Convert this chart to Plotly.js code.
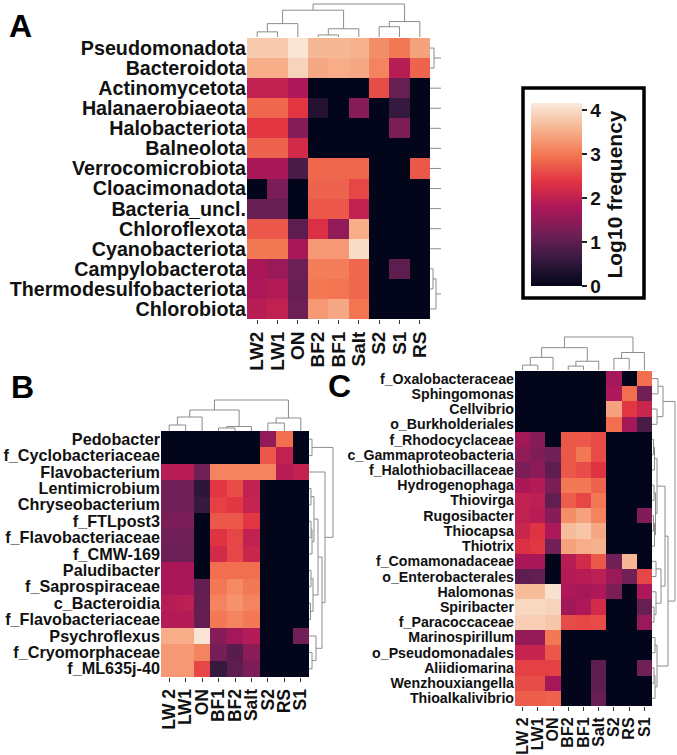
<!DOCTYPE html>
<html><head><meta charset="utf-8">
<script src="https://cdn.plot.ly/plotly-3.0.1.min.js"></script>
<style>html,body{margin:0;padding:0;background:#fff}#chart{width:677px;height:755px}</style>
</head><body><div id="chart"></div>
<script>
// ---------- Panel A ----------
const aCols = ['LW2','LW1','ON','BF2','BF1','Salt','S2','S1','RS'];
const aRows = ['Pseudomonadota','Bacteroidota','Actinomycetota','Halanaerobiaeota','Halobacteriota','Balneolota','Verrocomicrobiota','Cloacimonadota','Bacteria_uncl.','Chloroflexota','Cyanobacteriota','Campylobacterota','Thermodesulfobacteriota','Chlorobiota'];
const aValues = [
  [3.8,3.8,4.1,3.6,3.6,3.55,3.2,3.0,3.4],
  [3.5,3.5,3.9,3.45,3.5,3.45,3.1,1.9,2.8],
  [2.0,2.0,1.8,0,0,0,2.6,1.1,0],
  [2.85,2.85,2.4,0.4,0,1.4,0,0.6,0],
  [2.4,2.4,1.4,0,0,0,0,1.3,0],
  [2.8,2.8,2.2,0,0,0,0,0,0],
  [1.75,1.75,0.8,2.85,2.85,2.85,0,0,2.7],
  [0,1.3,0,2.8,2.8,2.55,0,0,0],
  [1.1,1.1,0,2.7,2.7,2.0,0,0,0],
  [2.7,2.7,1.0,2.3,1.5,3.5,0,0,0],
  [3.0,3.0,1.75,3.3,3.3,4.0,0,0,0],
  [1.75,1.6,1.15,3.05,3.05,2.85,0,1.0,0],
  [1.8,1.85,1.1,3.0,2.95,2.85,0,0,0],
  [1.9,2.0,1.15,3.3,3.45,2.95,0,0,0]
];
// linkage: [childA, childB, height]; leaves 0..n-1, new clusters numbered n, n+1, ... in order
const aColLinkage = [[0,1,5],[9,2,13],[3,4,2],[11,5,8],[10,12,26],[6,7,10],[14,8,15],[13,15,32]];
const aRowLinkage = [[0,1,4],[11,12,3],[15,13,6],[2,3,14],[4,5,12],[17,18,18],[7,8,12],[20,6,16],[9,10,14],[22,16,20],[21,23,24],[19,24,30],[14,25,40]];

// ---------- Panel B ----------
const bCols = ['LW 2','LW1','ON','BF1','BF2','Salt','S2','RS','S1'];
const bRows = ['Pedobacter','f_Cyclobacteriaceae','Flavobacterium','Lentimicrobium','Chryseobacterium','f_FTLpost3','f_Flavobacteriaceae','f_CMW-169','Paludibacter','f_Saprospiraceae','c_Bacteroidia','f_Flavobacteriaceae','Psychroflexus','f_Cryomorphaceae','f_ML635j-40'];
const bValues = [
  [0,0,0,0,0,0,1.5,2.9,0],
  [0,0,0,0,0,0,2.7,2.0,0],
  [1.9,1.9,1.2,3.1,3.1,3.1,3.1,1.9,2.0],
  [1.2,1.2,0.5,2.4,2.6,2.0,0,0,0],
  [1.2,1.2,0.6,2.5,2.4,2.05,0,0,0],
  [1.3,1.3,0,2.7,2.7,2.4,0,0,0],
  [1.2,1.2,0,2.35,2.55,2.0,0,0,0],
  [1.15,1.15,0,2.2,2.55,2.1,0,0,0],
  [1.75,1.75,0,2.9,2.9,2.9,0,0,0],
  [1.75,1.75,1.05,3.0,3.15,3.0,0,0,0],
  [1.9,1.95,1.05,3.1,3.25,3.1,0,0,0],
  [1.85,1.85,1.05,3.0,3.1,3.0,0,0,0],
  [3.5,3.5,4.1,1.4,1.7,1.85,0,0,1.2],
  [3.3,3.3,3.1,1.25,0.95,1.45,0,0,0],
  [3.3,3.3,2.55,0.6,1.0,1.3,0,0,0]
];
const bColLinkage = [[0,1,6],[9,2,14],[3,4,3],[11,5,4.5],[10,12,21],[6,7,8],[14,8,13],[13,15,31]];
const bRowLinkage = [[0,1,3],[3,4,2],[5,6,2],[17,7,3],[16,18,5],[8,9,2],[10,11,1.5],[20,21,4],[19,22,9],[13,14,3],[12,24,7],[23,25,13],[2,26,16],[15,27,24]];

// ---------- Panel C ----------
const cCols = ['LW 2','LW1','ON','BF2','BF1','Salt','S2','RS','S1'];
const cRows = ['f_Oxalobacteraceae','Sphingomonas','Cellvibrio','o_Burkholderiales','f_Rhodocyclaceae','c_Gammaproteobacteria','f_Halothiobacillaceae','Hydrogenophaga','Thiovirga','Rugosibacter','Thiocapsa','Thiotrix','f_Comamonadaceae','o_Enterobacterales','Halomonas','Spiribacter','f_Paracoccaceae','Marinospirillum','o_Pseudomonadales','Aliidiomarina','Wenzhouxiangella','Thioalkalivibrio'];
const cValues = [
  [0,0,0,0,0,0,1.7,0,2.9],
  [0,0,0,0,0,0,1.8,2.9,1.2],
  [0,0,0,0,0,0,3.4,2.4,2.1],
  [0,0,0,0,0,0,2.9,1.7,0.8],
  [1.7,1.4,0,2.7,2.7,2.6,0,0,0],
  [1.5,1.35,1.2,2.7,3.0,2.6,0,0,0],
  [1.3,1.45,1.0,2.7,2.6,2.35,0,0,0],
  [1.75,1.85,1.3,3.0,3.0,2.8,0,0,0],
  [2.0,1.95,1.05,2.75,2.55,3.0,0,0,0],
  [2.0,1.9,1.4,3.2,3.4,3.1,0,0,1.35],
  [2.1,2.35,1.8,3.65,3.75,3.45,0,0,0],
  [2.3,2.4,1.2,3.4,3.5,3.55,0,0,0],
  [1.75,1.75,0,1.9,2.2,2.7,1.2,3.6,0],
  [1.0,1.05,0,1.85,1.9,1.95,1.6,1.2,2.55],
  [3.65,3.65,4.05,1.8,1.7,1.8,1.3,0,1.8],
  [3.95,3.95,3.9,1.65,1.8,2.2,0,0,1.1],
  [3.85,3.85,3.75,2.6,2.55,2.6,0,0,1.6],
  [1.55,1.55,3.0,0,0,0,0,0,0],
  [2.05,2.05,2.7,0,0,0,0,0,0],
  [2.5,2.5,2.5,0,0,1.0,0,0,1.2],
  [2.6,2.6,1.7,0,0,1.0,0,0,0],
  [2.75,2.75,2.8,0,0,1.1,0,0,0]
];
const cColLinkage = [[0,1,5],[9,2,13],[3,4,4],[11,5,9],[10,12,23],[6,7,12],[14,8,18],[13,15,34]];
const cRowLinkage = [
  [0,1,6],[2,3,5],[22,23,11],[4,5,1.5],[25,6,2.5],[7,8,2],[9,10,1.5],[28,11,2.5],[27,29,3.5],[26,30,5],
  [12,13,4],[15,16,2],[14,33,4],[32,34,9],[17,18,3],[19,20,2],[37,21,3],[36,38,5],[31,35,13],[40,39,16],[24,41,23]
];
</script>
<script>
const W = 677, H = 755;
const px = v => v / W;
const py = v => 1 - v / H;
const FONT = 'Liberation Sans, Arial, sans-serif';
const rocket = [[0,'#03051a'],[0.143,'#35193e'],[0.286,'#701f57'],[0.429,'#ad1759'],[0.571,'#e13342'],[0.714,'#f37651'],[0.857,'#f6b48f'],[1,'#faebdd']];

function dendro(n, links) {
  const pos = [], ht = [];
  for (let i = 0; i < n; i++) { pos[i] = i; ht[i] = 0; }
  const p = [], h = [];
  links.forEach((m, k) => {
    const [a, b, hh] = m, id = n + k;
    p.push(pos[a], pos[a], pos[b], pos[b], null);
    h.push(ht[a], hh, hh, ht[b], null);
    pos[id] = (pos[a] + pos[b]) / 2; ht[id] = hh;
  });
  return {p, h};
}
const idx = arr => arr.map((_, i) => i);

const panels = [
  {cols:aCols, rows:aRows, z:aValues, colL:aColLinkage, rowL:aRowLinkage,
   box:[247,430,38,319], colD:[37,3,33], rowD:[430,441,11], yf:19.7, xf:19},
  {cols:bCols, rows:bRows, z:bValues, colL:bColLinkage, rowL:bRowLinkage,
   box:[161,309,431,677], colD:[431,399,32], rowD:[309,334,25], yf:16.2, xf:17.5},
  {cols:cCols, rows:cRows, z:cValues, colL:cColLinkage, rowL:cRowLinkage,
   box:[515,652,371,706], colD:[370,336,35], rowD:[652,676,24], yf:14.2, xf:16}
];

const traces = [];
const layout = {
  width: W, height: H, margin: {l:0, r:0, t:0, b:0},
  paper_bgcolor: '#fff', plot_bgcolor: '#fff', showlegend: false,
  font: {family: FONT, color: '#111'},
  coloraxis: {
    colorscale: rocket, cmin: 0, cmax: 4.16,
    colorbar: {
      x: px(531), xanchor: 'left', xref: 'paper',
      y: py(286), yanchor: 'bottom', yref: 'paper',
      len: 183, lenmode: 'pixels', thickness: 51, thicknessmode: 'pixels',
      xpad: 0, ypad: 0, outlinewidth: 0,
      ticks: 'outside', ticklen: 5, tickwidth: 1.5, tickcolor: '#222',
      tickvals: [0,1,2,3,4],
      tickfont: {family: FONT, size: 19, weight: 'bold', color: '#111'},
      title: {text: 'Log10 frequency', side: 'right', font: {family: FONT, size: 21, weight: 'bold', color: '#111'}}
    }
  },
  shapes: [{type:'rect', xref:'paper', yref:'paper', x0:px(523), x1:px(644), y0:py(298), y1:py(88), line:{color:'#000', width:3.5}}],
  annotations: [
    {text:'A', x:px(7), y:py(26), xanchor:'left', yanchor:'middle'},
    {text:'B', x:px(9), y:py(387), xanchor:'left', yanchor:'middle'},
    {text:'C', x:px(326), y:py(386), xanchor:'left', yanchor:'middle'}
  ].map(a => Object.assign(a, {xref:'paper', yref:'paper', showarrow:false, font:{family:FONT, size:32, weight:'bold', color:'#000'}}))
};

panels.forEach((P, k) => {
  const n = k + 1;
  const xa = n === 1 ? 'x' : 'x' + n, ya = n === 1 ? 'y' : 'y' + n;
  const [x0, x1, y0, y1] = P.box;
  const nr = P.rows.length, nc = P.cols.length;
  traces.push({type:'heatmap', z:P.z, x:idx(P.cols), y:idx(P.rows), coloraxis:'coloraxis',
    xaxis:xa, yaxis:ya, hoverinfo:'skip', showscale: k === 0});
  layout['xaxis' + (n === 1 ? '' : n)] = {domain:[px(x0), px(x1)], range:[-0.5, nc - 0.5], anchor: ya,
    tickvals: idx(P.cols), ticktext: P.cols, tickangle: -90, ticks:'outside', ticklen:4, tickwidth:1, tickcolor:'#333',
    showgrid:false, zeroline:false, showline:false, fixedrange:true,
    tickfont:{family:FONT, size:P.xf, weight:'bold', color:'#111'}};
  layout['yaxis' + (n === 1 ? '' : n)] = {domain:[py(y1), py(y0)], range:[nr - 0.5, -0.5], anchor: xa,
    tickvals: idx(P.rows), ticktext: P.rows, ticks:'', showgrid:false, zeroline:false, showline:false, fixedrange:true,
    tickfont:{family:FONT, size:P.yf, weight:'bold', color:'#111'}};

  // column dendrogram
  const cd = dendro(nc, P.colL);
  const cx = 'x' + (3 + 2*n - 1), cy = 'y' + (3 + 2*n - 1);
  traces.push({type:'scatter', mode:'lines', x:cd.p, y:cd.h, xaxis:cx, yaxis:cy,
    line:{color:'#8c8c8c', width:1}, hoverinfo:'skip'});
  layout['xaxis' + (3 + 2*n - 1)] = {domain:[px(x0), px(x1)], range:[-0.5, nc - 0.5], anchor:cy, visible:false, fixedrange:true};
  layout['yaxis' + (3 + 2*n - 1)] = {domain:[py(P.colD[0]), py(P.colD[1])], range:[0, P.colD[2]], anchor:cx, visible:false, fixedrange:true};

  // row dendrogram
  const rd = dendro(nr, P.rowL);
  const rx = 'x' + (3 + 2*n), ry = 'y' + (3 + 2*n);
  traces.push({type:'scatter', mode:'lines', x:rd.h, y:rd.p, xaxis:rx, yaxis:ry,
    line:{color:'#8c8c8c', width:1}, hoverinfo:'skip'});
  layout['xaxis' + (3 + 2*n)] = {domain:[px(P.rowD[0]), px(P.rowD[1])], range:[0, P.rowD[2]], anchor:ry, visible:false, fixedrange:true};
  layout['yaxis' + (3 + 2*n)] = {domain:[py(y1), py(y0)], range:[nr - 0.5, -0.5], anchor:rx, visible:false, fixedrange:true};
});

Plotly.newPlot('chart', traces, layout, {displayModeBar:false, staticPlot:true});
</script>
</body></html>
